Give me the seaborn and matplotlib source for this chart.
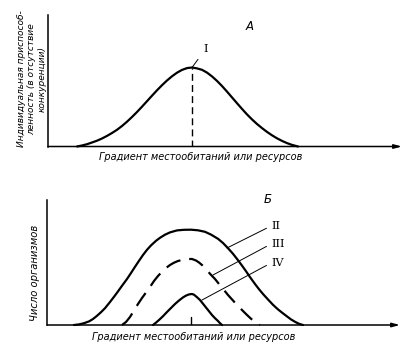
import matplotlib
matplotlib.use("Agg")
import matplotlib.pyplot as plt
import seaborn as sns

# --- data -------------------------------------------------------------
# Panel A: individual fitness (no competition) along the gradient
grad_I = [29, 34, 39, 44, 49, 54, 59, 64, 69, 74, 79, 84, 89, 94, 99, 104,
          109, 114, 119, 124, 129, 134, 139, 144, 149, 154, 159, 164, 169,
          174, 179, 184, 189, 194, 199, 204, 209, 214, 219, 224, 229, 234,
          239, 244, 250]
fit_I = [0, 1.0, 2.3, 4.0, 5.8, 8.0, 10.6, 13.5, 16.7, 20.5, 24.8, 29.5,
         34.5, 39.8, 45.3, 50.8, 56.2, 61.3, 66, 70.2, 73.8, 76.6, 78.4, 79,
         78.1, 76.7, 73.9, 70.1, 65.6, 60.5, 54.9, 49.1, 43.3, 37.6, 32.1,
         27.1, 22.5, 18.4, 14.6, 11.2, 8.2, 5.6, 3.4, 1.6, 0]

# Panel B: number of organisms, curves II (solid), III (dashed), IV (solid)
grad_II = [27, 32, 37, 42, 46, 50, 54, 58, 63, 67, 71, 75, 80, 84, 88, 92,
           96, 100, 104, 109, 113, 118, 123, 130, 137, 144, 151, 158, 164,
           171, 176, 181, 186, 191, 195, 199, 203, 208, 212, 216, 221, 226,
           231, 235, 240, 244, 248, 252, 256]
num_II = [0, 0.6, 1.8, 3.6, 6, 9.2, 12.8, 16.8, 23, 28.2, 33.6, 39.2, 46,
          52, 58.2, 64.2, 70, 75.2, 79.6, 84.2, 87.2, 90.3, 92.6, 94.6, 95.2,
          95.3, 94.7, 93.2, 90.4, 86.2, 82, 76.8, 71.2, 64.8, 59.4, 53.8,
          47.9, 41, 35.8, 31, 25.5, 20.2, 15.6, 12.4, 8.6, 5.6, 3.2, 1.2, 0]

grad_III = [75, 79, 83, 87, 91, 95, 99, 103, 107, 111, 115, 119, 123, 127,
            131, 136, 141, 145, 149, 152, 155, 159, 163, 168, 172, 176, 181,
            186, 190, 195, 199, 203, 207, 210, 213]
num_III = [0, 3, 8, 14.5, 21, 27, 32.5, 38, 44, 49, 53.3, 57, 60, 62.3, 64,
           65.3, 66, 66, 64.5, 62.5, 60, 56, 51.2, 46, 41, 36.2, 30, 24.5, 20,
           15, 11, 7.2, 3.6, 1.4, 0]

grad_IV = [106, 109, 112, 116, 120, 124, 128, 132, 136, 139, 142, 145, 147,
           150, 153, 157, 161, 165, 168, 171, 173, 175]
num_IV = [0, 2.4, 5, 8.8, 13, 17, 21, 24.5, 27.6, 29.4, 30.6, 31, 30.3,
          27.8, 25, 20, 15, 10, 6.8, 4, 1.8, 0]

optimum = 144

panel_titles = ["А", "Б"]
curve_names = ["I", "II", "III", "IV"]
x_label = "Градиент местообитаний или ресурсов"
y_label_top = "Индивидуальная приспособ-\nленность (в отсутствие\nконкуренции)"
y_label_bottom = "Число организмов"

# --- figure -------------------------------------------------------------
sns.set_style("white")
plt.rcParams["font.family"] = ["DejaVu Sans"]
plt.rcParams["text.color"] = "black"

W, H = 410, 350
fig = plt.figure(figsize=(W / 100, H / 100), dpi=100)


def fx(px):
    return px / W


def fy(py):
    return 1 - py / H


ax1 = fig.add_axes([fx(48), fy(146.5), 354 / W, 131.5 / H])
ax2 = fig.add_axes([fx(47), fy(325), 353 / W, 125 / H])
ax1.set_xlim(0, 354)
ax1.set_ylim(0, 131.5)
ax2.set_xlim(0, 353)
ax2.set_ylim(0, 125)

for ax, xmax in ((ax1, 354), (ax2, 353)):
    ax.set_xticks([])
    ax.set_yticks([])
    for side in ("top", "right", "bottom"):
        ax.spines[side].set_visible(False)
    ax.spines["left"].set_color("black")
    ax.spines["left"].set_linewidth(1.1)
    ax.patch.set_alpha(0)
    ax.annotate("", xy=(xmax, 0), xytext=(0, 0),
                arrowprops=dict(arrowstyle="-|>,head_length=0.45,head_width=0.12",
                                lw=1.1, color="black", shrinkA=0, shrinkB=0),
                annotation_clip=False)

curve_kw = dict(color="black", lw=1.6, clip_on=False, zorder=3)

# Panel A
sns.lineplot(x=grad_I, y=fit_I, ax=ax1, **curve_kw)
ax1.plot([optimum, optimum], [0, max(fit_I)], color="black", lw=1.0,
         linestyle=(0, (5, 3)), zorder=2)
ax1.annotate(curve_names[0], xy=(optimum, max(fit_I)), xytext=(158, 98),
             fontsize=8, family="DejaVu Serif", color="black",
             ha="center", va="center",
             arrowprops=dict(arrowstyle="-", lw=0.7, color="black",
                             shrinkA=3, shrinkB=0))
ax1.text(202, 120, panel_titles[0], fontsize=8.5, style="italic",
         color="black", ha="center", va="center")

# Panel B
sns.lineplot(x=grad_II, y=num_II, ax=ax2, **curve_kw)
sns.lineplot(x=grad_III, y=num_III, ax=ax2, linestyle=(0, (7, 4)), **curve_kw)
sns.lineplot(x=grad_IV, y=num_IV, ax=ax2, **curve_kw)
ax2.plot([optimum, optimum], [0, 8], color="black", lw=1.0)

leaders = [((180, 77), (224, 99)), ((166, 50), (224, 81)), ((155, 25), (224, 62))]
for name, (xy, xytext) in zip(curve_names[1:], leaders):
    ax2.annotate(name, xy=xy, xytext=xytext, fontsize=8,
                 family="DejaVu Serif", color="black", ha="left", va="center",
                 annotation_clip=False,
                 arrowprops=dict(arrowstyle="-", lw=0.7, color="black",
                                 shrinkA=1, shrinkB=0,
                                 relpos=(0, 0.5)))
ax2.text(221, 125, panel_titles[1], fontsize=8.5, style="italic",
         color="black", ha="center", va="center", clip_on=False)

text_kw = dict(style="italic", color="black")
fig.text(fx(201), fy(157), x_label, ha="center", va="center",
         fontsize=7, **text_kw)
fig.text(fx(194), fy(337), x_label, ha="center", va="center",
         fontsize=7, **text_kw)
fig.text(fx(32), fy(79), y_label_top, rotation=90, ha="center", va="center",
         multialignment="center", linespacing=1.15, fontsize=6.5, **text_kw)
fig.text(fx(35), fy(273), y_label_bottom, rotation=90, ha="center",
         va="center", fontsize=7.2, **text_kw)

fig.savefig("out.png", dpi=100, facecolor="white")
